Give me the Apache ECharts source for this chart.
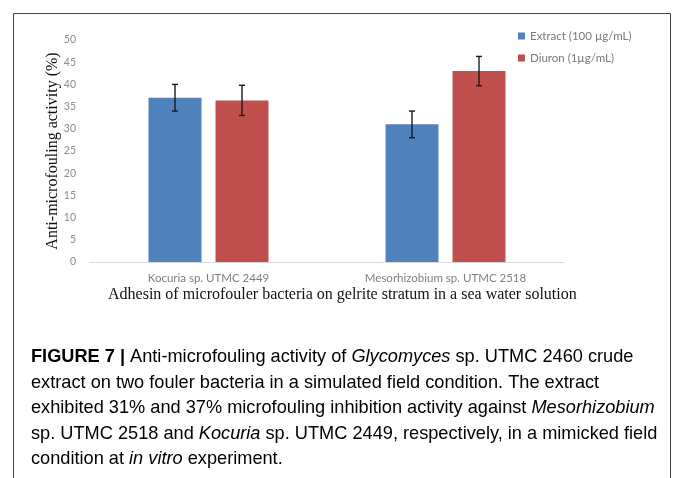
<!DOCTYPE html>
<html>
<head>
<meta charset="utf-8">
<script src="https://cdn.jsdelivr.net/npm/echarts@6/dist/echarts.min.js"></script>
<style>
  html, body { margin: 0; padding: 0; background: #fff; }
  #chart { width: 673px; height: 478px; }
</style>
</head>
<body>
<div id="chart"></div>
<script>
// data
var categories = ['Kocuria sp. UTMC 2449', 'Mesorhizobium sp. UTMC 2518'];
var seriesNames = ['Extract (100 \u00b5g/mL)', 'Diuron (1\u00b5g/mL)'];
var extractMean = [37, 31];
var extractErr = [3.0, 3.0];
var diuronMean = [36.4, 43];
var diuronErr = [3.4, 3.3];
var yTicks = [0, 50, 5]; // min, max, interval

var BAR_W = 53, BAR_GAP = 14;
var labelFont = 'Lato';
var serif = '"Liberation Serif", "DejaVu Serif", serif';
var sans = '"Liberation Sans", Arial, sans-serif';

// error bar series, drawn with a small offset from the category centre
function errorBars(name, means, errs, side) {
    return {
        type: 'custom',
        name: name,
        z: 10,
        data: means.map(function(m, i) { return [i, m, errs[i]]; }),
        renderItem: function(params, api) {
            var i = api.value(0), m = api.value(1), e = api.value(2);
            var hi = api.coord([i, m + e]);
            var lo = api.coord([i, m - e]);
            var x = hi[0] + side * (BAR_W + BAR_GAP) / 2;
            var cap = 3;
            var st = { stroke: '#1a1a1a', lineWidth: 1.4 };
            return {
                type: 'group',
                children: [
                    { type: 'line', shape: { x1: x, y1: hi[1], x2: x, y2: lo[1] }, style: st },
                    { type: 'line', shape: { x1: x - cap, y1: hi[1], x2: x + cap, y2: hi[1] }, style: st },
                    { type: 'line', shape: { x1: x - cap, y1: lo[1], x2: x + cap, y2: lo[1] }, style: st }
                ]
            };
        }
    };
}

var captionRich = {
    b: { fontFamily: sans, fontWeight: 'bold', fontSize: 18.2, color: '#111' },
    n: { fontFamily: sans, fontSize: 18.2, color: '#333' },
    i: { fontFamily: sans, fontStyle: 'italic', fontSize: 18.2, color: '#333' }
};
var captionLines = [
    '{b|FIGURE 7 |}{n| Anti-microfouling activity of }{i|Glycomyces}{n| sp. UTMC 2460 crude}',
    '{n|extract on two fouler bacteria in a simulated field condition. The extract}',
    '{n|exhibited 31% and 37% microfouling inhibition activity against }{i|Mesorhizobium}',
    '{n|sp. UTMC 2518 and }{i|Kocuria}{n| sp. UTMC 2449, respectively, in a mimicked field}',
    '{n|condition at }{i|in vitro}{n| experiment.}'
];

var graphics = [{
    type: 'rect',
    shape: { x: 13.5, y: 13.5, width: 657, height: 500 },
    style: { fill: 'none', stroke: '#444', lineWidth: 1 },
    silent: true
}, {
    type: 'text',
    left: 108,
    top: 287,
    style: {
        text: 'Adhesin of microfouler bacteria on gelrite stratum in a sea water solution',
        font: '16px ' + serif,
        fill: '#111'
    }
}];
captionLines.forEach(function(line, k) {
    graphics.push({
        type: 'text',
        left: 31,
        top: 348 + k * 25.5,
        style: { text: line, rich: captionRich }
    });
});

var myChart = echarts.init(document.getElementById('chart'));
myChart.setOption({
    animation: false,
    backgroundColor: '#fff',
    grid: { left: 90, right: 109, top: 40, bottom: 216 },
    legend: {
        data: seriesNames,
        orient: 'vertical',
        left: 513,
        top: 25,
        itemWidth: 7,
        itemHeight: 7,
        itemGap: 10,
        icon: 'rect',
        textStyle: { fontFamily: labelFont, fontSize: 11.5, color: '#7a7a7a' }
    },
    xAxis: {
        type: 'category',
        data: categories,
        axisLine: { lineStyle: { color: '#d9d9d9', width: 1 } },
        axisTick: { show: false },
        axisLabel: { fontFamily: labelFont, fontSize: 11.5, color: '#7f7f7f', margin: 10 }
    },
    yAxis: {
        type: 'value',
        min: yTicks[0],
        max: yTicks[1],
        interval: yTicks[2],
        name: 'Anti-microfouling activity (%)',
        nameLocation: 'middle',
        nameGap: 29,
        nameMoveOverlap: false,
        nameTextStyle: { fontFamily: serif, fontSize: 16, color: '#111' },
        axisLine: { show: false },
        axisTick: { show: false },
        splitLine: { show: false },
        axisLabel: { fontFamily: labelFont, fontSize: 10.5, color: '#8c8c8c', margin: 14 }
    },
    series: [{
        name: seriesNames[0],
        type: 'bar',
        barWidth: BAR_W,
        barGap: (BAR_GAP / BAR_W * 100).toFixed(1) + '%',
        itemStyle: { color: '#4f81bd' },
        data: extractMean
    }, {
        name: seriesNames[1],
        type: 'bar',
        barWidth: BAR_W,
        itemStyle: { color: '#c0504d' },
        data: diuronMean
    },
    errorBars('err-extract', extractMean, extractErr, -1),
    errorBars('err-diuron', diuronMean, diuronErr, 1)
    ],
    graphic: graphics
});
</script>
</body>
</html>
